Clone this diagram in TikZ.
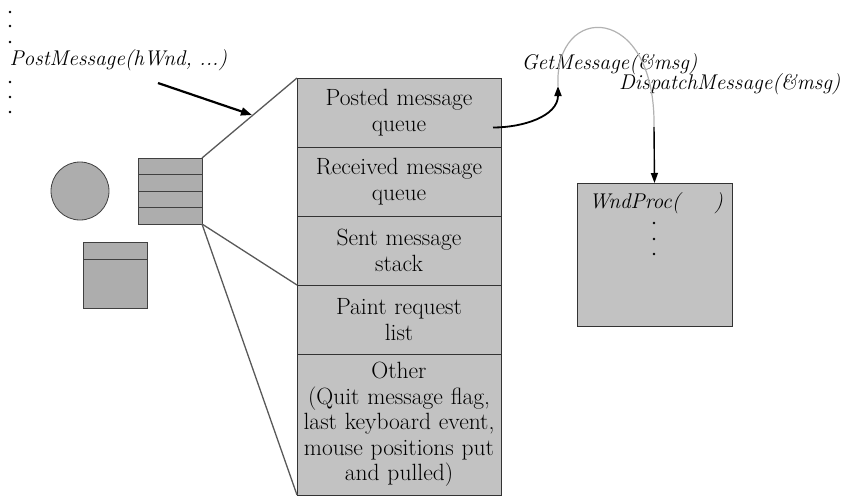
\documentclass[tikz,border=0pt]{standalone}
\usepackage{tikz}
\usetikzlibrary{arrows.meta, positioning, calc}
\definecolor{qgray}{gray}{0.76}
\definecolor{qdark}{gray}{0.68}
\tikzset{
    qrow/.style={rectangle, draw=black!80, line width=0.8pt, fill=qgray, text width=200pt, text centered, inner xsep=2pt, inner ysep=0pt, outer sep=0pt, minimum height=69pt, font=\fontsize{23.5}{25.5}\selectfont},
    thing/.style={draw=black!75, line width=0.8pt, fill=qdark, inner sep=0pt, outer sep=0pt},
    procbox/.style={rectangle, draw=black!80, line width=0.8pt, fill=qgray, inner sep=0pt, outer sep=0pt},
    call/.style={font=\fontsize{21.3}{25}\selectfont\itshape},
    arrow/.style={-{Triangle[length=11pt, width=8pt]}, line width=2.2pt},
    zoomline/.style={draw=black!65, line width=1.3pt},
    arcline/.style={draw=black!30, line width=1.2pt},
}
\begin{document}
\begin{tikzpicture}[x=1pt, y=-1pt]
    \useasboundingbox (0,0) rectangle (846,496);

    % the thread's message queues
    \node[qrow] (posted) at (399,112.5) {Posted message\\queue};
    \node[qrow, below=0pt of posted] (received) {Received message\\queue};
    \node[qrow, below=0pt of received] (sent) {Sent message\\stack};
    \node[qrow, below=0pt of sent] (paint) {Paint request\\list};
    \node[qrow, below=0pt of paint, minimum height=141pt] (other) {Other\\(Quit message flag,\\last keyboard event,\\mouse positions put\\and pulled)};

    % thread, queue and window symbols
    \node[thing, circle, minimum size=58pt] (thread) at (80,191) {};
    \node[thing, rectangle, minimum width=64pt, minimum height=66pt] (minique) at (170,191) {};
    \foreach \k in {1,2,3}
        \draw[draw=black!75, line width=0.8pt] ($(minique.north west)!\k/4!(minique.south west)$) -- ($(minique.north east)!\k/4!(minique.south east)$);
    \node[thing, rectangle, minimum width=64pt, minimum height=66pt] (minibox) at (115,275) {};
    \draw[draw=black!75, line width=0.8pt] ([yshift=-17pt]minibox.north west) -- ([yshift=-17pt]minibox.north east);

    \draw[zoomline] (minique.north east) -- (posted.north west);
    \draw[zoomline] (minique.south east) -- (paint.north west);
    \draw[zoomline] (minique.south east) -- (other.south west);

    % posting side
    \foreach \y in {12,26,42,82,97,112}
        \fill (10,\y) circle (1.4pt);
    \node[call, anchor=base west] (postlbl) at (6,65) {PostMessage(hWnd, ...)};
    \coordinate (posttail) at (158,83);
    \coordinate (posthead) at (252,115);
    \draw[arrow] (posttail) -- (posthead);

    % message loop
    \node[call, anchor=base west] (getlbl) at (518,69) {GetMessage(\&msg)};
    \node[call, anchor=base east] (displbl) at (844,89) {DispatchMessage(\&msg)};
    \coordinate (getstart) at ([xshift=-8pt, yshift=-15pt]posted.east);
    \coordinate (gettip) at (558,86);
    \coordinate (dispend) at (654,127);
    \draw[arrow, line width=1.8pt, -{Triangle[length=10pt, width=7pt]}] (getstart) to[out=0, in=-90] (gettip);
    \draw[arcline] (gettip) .. controls (554,2) and (656,2) .. (dispend);

    % window procedure
    \node[procbox, minimum width=155pt, minimum height=143pt] (wndproc) at (654.5,254.5) {};
    \node[call, anchor=base] (wndtext) at (656,208) {WndProc(\hspace{1.6em})};
    \foreach \y in {223,239,254}
        \fill (654,\y) circle (1.4pt);
    \draw[arrow, line width=1.4pt, -{Triangle[length=10pt, width=7pt]}] (dispend) -- (wndproc.north);
\end{tikzpicture}
\end{document}
